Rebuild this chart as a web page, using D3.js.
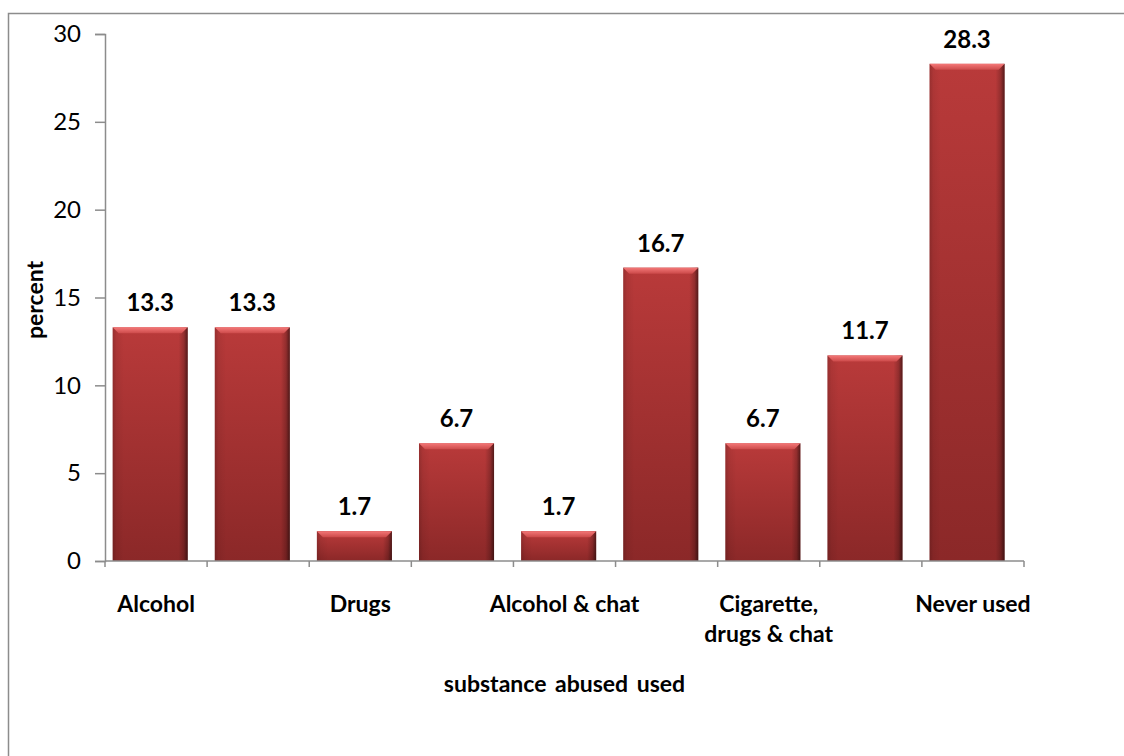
<!DOCTYPE html>
<html>
<head>
<meta charset="utf-8">
<script src="https://cdn.jsdelivr.net/npm/d3@7"></script>
<style>
  body { margin: 0; background: #fff; }
  text { font-family: Lato, "Open Sans", sans-serif; fill: #000; }
</style>
</head>
<body>
<div id="chart"></div>
<script>
// substance use chart

const categories = [
  "Alcohol", "Cigarette", "Drugs", "Chat", "Alcohol & chat",
  "Cigarette & chat", "Cigarette, drugs & chat", "Alcohol, cigarette & chat", "Never used"
];
const percents = [13.3, 13.3, 1.7, 6.7, 1.7, 16.7, 6.7, 11.7, 28.3];
const yTicks = [0, 5, 10, 15, 20, 25, 30];

const width = 1124;
const height = 756;
const plot = { left: 105, right: 1024, top: 34, bottom: 561 };

const svg = d3.select("#chart")
  .append("svg")
  .attr("width", width)
  .attr("height", height);

// outer chart border (runs off the right and bottom)
svg.append("rect")
  .attr("x", 8.5).attr("y", 13.5)
  .attr("width", width + 20).attr("height", height + 20)
  .attr("fill", "none")
  .attr("stroke", "#8c8c8c")
  .attr("stroke-width", 1.5);

const x = d3.scaleBand()
  .domain(categories)
  .range([plot.left, plot.right]);

const y = d3.scaleLinear()
  .domain([0, 30])
  .range([plot.bottom, plot.top]);

// gradients for the bevelled bars
const defs = svg.append("defs");

const fillGrad = defs.append("linearGradient")
  .attr("id", "barFill").attr("x1", 0).attr("y1", 0).attr("x2", 0).attr("y2", 1);
fillGrad.append("stop").attr("offset", "0%").attr("stop-color", "#b93a3a");
fillGrad.append("stop").attr("offset", "100%").attr("stop-color", "#8b2828");

const sideGrad = defs.append("linearGradient")
  .attr("id", "barSide").attr("x1", 0).attr("y1", 0).attr("x2", 1).attr("y2", 0);
[[0, "#000", 0.18], [0.05, "#000", 0.06], [0.15, "#000", 0], [0.88, "#000", 0],
 [0.95, "#000", 0.2], [1, "#000", 0.55]].forEach(s => {
  sideGrad.append("stop").attr("offset", s[0]).attr("stop-color", s[1]).attr("stop-opacity", s[2]);
});

const topGrad = defs.append("linearGradient")
  .attr("id", "barTop").attr("x1", 0).attr("y1", 0).attr("x2", 0).attr("y2", 1);
topGrad.append("stop").attr("offset", "0%").attr("stop-color", "#f47878");
topGrad.append("stop").attr("offset", "100%").attr("stop-color", "#cc4a4a");

const bw = x.bandwidth();
const barOffset = bw * 0.075;
const barWidth = bw * 0.735;
const bevel = 6;

const bars = svg.append("g").selectAll("g.bar")
  .data(categories)
  .join("g")
  .attr("class", "bar");

bars.append("rect")
  .attr("x", d => x(d) + barOffset)
  .attr("y", (d, i) => y(percents[i]))
  .attr("width", barWidth)
  .attr("height", (d, i) => y(0) - y(percents[i]))
  .attr("fill", "url(#barFill)");

bars.append("rect")
  .attr("x", d => x(d) + barOffset)
  .attr("y", (d, i) => y(percents[i]))
  .attr("width", barWidth)
  .attr("height", (d, i) => y(0) - y(percents[i]))
  .attr("fill", "url(#barSide)");

// top bevel
bars.append("path")
  .attr("d", (d, i) => {
    const x0 = x(d) + barOffset, x1 = x0 + barWidth, t = y(percents[i]);
    return `M${x0},${t}L${x1},${t}L${x1 - bevel},${t + bevel}L${x0 + bevel},${t + bevel}Z`;
  })
  .attr("fill", "url(#barTop)");

// data labels
svg.append("g").selectAll("text")
  .data(categories)
  .join("text")
  .attr("x", d => x(d) + barOffset + barWidth / 2)
  .attr("y", (d, i) => y(percents[i]) - 16)
  .attr("text-anchor", "middle")
  .style("font-size", "24px")
  .style("font-weight", "bold")
  .text((d, i) => percents[i].toFixed(1));

// y axis
const yAxis = svg.append("g")
  .attr("transform", `translate(${plot.left},0)`)
  .call(d3.axisLeft(y).tickValues(yTicks).tickSize(10).tickPadding(14));
yAxis.select(".domain").attr("stroke", "#8c8c8c").attr("stroke-width", 1.5);
yAxis.selectAll(".tick line").attr("stroke", "#8c8c8c").attr("stroke-width", 1.5);
yAxis.selectAll(".tick text")
  .style("font-size", "24px")
  .style("font-family", "Lato, sans-serif")
  .attr("fill", "#000");

// x axis line and band-edge ticks
const xAxis = svg.append("g");
xAxis.append("line")
  .attr("x1", plot.left).attr("x2", plot.right)
  .attr("y1", y(0)).attr("y2", y(0))
  .attr("stroke", "#8c8c8c").attr("stroke-width", 1.5);
xAxis.selectAll("line.tick")
  .data(categories.map(c => x(c)).concat([x.range()[1]]))
  .join("line")
  .attr("class", "tick")
  .attr("x1", d => d).attr("x2", d => d)
  .attr("y1", y(0)).attr("y2", y(0) + 6)
  .attr("stroke", "#8c8c8c").attr("stroke-width", 1.5);

// category labels, every other one like the original
const catLabels = xAxis.selectAll("text")
  .data(categories.filter((d, i) => i % 2 === 0))
  .join("text")
  .attr("x", d => x(d) + bw / 2)
  .attr("y", y(0) + 51)
  .attr("text-anchor", "middle")
  .style("font-size", "23px")
  .style("font-weight", "bold");

catLabels.each(function(d) {
  const el = d3.select(this);
  const lines = d === "Cigarette, drugs & chat" ? ["Cigarette,", "drugs & chat"] : [d];
  lines.forEach((line, k) => {
    el.append("tspan")
      .attr("x", x(d) + bw / 2)
      .attr("dy", k === 0 ? 0 : 30)
      .text(line);
  });
});

// axis titles
svg.append("text")
  .attr("x", (plot.left + plot.right) / 2)
  .attr("y", 692)
  .attr("text-anchor", "middle")
  .style("font-size", "23px")
  .style("font-weight", "bold")
  .style("word-spacing", "3px")
  .text("substance abused used");

svg.append("text")
  .attr("transform", "translate(43,300) rotate(-90)")
  .attr("text-anchor", "middle")
  .style("font-size", "23px")
  .style("font-weight", "bold")
  .text("percent");
</script>
</body>
</html>
